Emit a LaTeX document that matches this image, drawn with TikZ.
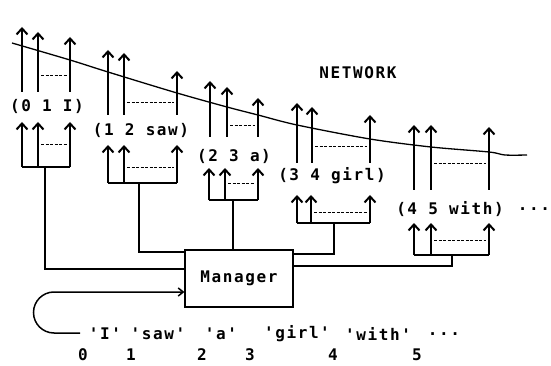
\documentclass[tikz,border=0pt]{standalone}
\usepackage{fontspec}
\setmonofont[LetterSpace=10]{DejaVu Sans Mono}
\usetikzlibrary{arrows.meta}

\begin{document}
\begin{tikzpicture}[x=1pt,y=-1pt,
    txt/.style={font={\ttfamily\bfseries\fontsize{16}{16}\selectfont\spaceskip=11.2pt\relax},
        inner sep=0pt},
    up/.style={-{Straight Barb[length=6pt,width=11pt]},line width=2pt},
    fork/.style={line width=1.8pt},
    gap/.style={line width=1pt,dash pattern=on 3pt off 1.5pt},
    wire/.style={line width=1.5pt},
    box/.style={draw,line width=1.2pt,minimum width=108pt,minimum height=57pt,inner sep=0pt}
]
    \useasboundingbox (0,0) rectangle (551,366);

    % network boundary
    \draw[line width=1.3pt] plot[smooth,tension=0.5] coordinates {
        (12,43) (70,60) (108,72) (177,93) (227,107) (258,115) (297,125)
        (370,139) (431,147) (489,152) (505,155) (527,155)};
    \node[txt] (net) at (358,73) {NETWORK};

    % edges into the network
    \foreach \i/\xa/\xb/\xc/\yb/\ta/\tb/\tc/\yd in {
        1/22/38/70/92/27/32/37/76,
        2/108/124/177/115/50/53/71/103,
        3/210/227/258/137/81/87/98/126,
        4/297/312/370/163/103/107/115/147,
        5/414/431/489/190/125/125/127/164} {
        \draw[up] (\xa,\yb) -- (\xa,\ta);
        \draw[up] (\xb,\yb) -- (\xb,\tb);
        \draw[up] (\xc,\yb) -- (\xc,\tc);
        \draw[gap] (\xb+3,\yd) -- (\xc-3,\yd);
    }

    \foreach \name/\x/\y/\t in {
        I/47/106/{(0 1 I)},
        saw/141/130/{(1 2 saw)},
        a/234/156/{(2 3 a)},
        girl/332/176/{(3 4 girl)},
        with/450/209/{(4 5 with)}} {
        \node[txt] (edge-\name) at (\x,\y) {\t};
    }
    \node[txt] (more) at (534,209) {...};

    % forks from the manager
    \foreach \i/\xa/\xb/\xc/\ytop/\ybr/\yd/\xs in {
        1/22/38/70/122/167/145/45,
        2/108/124/177/145/183/168/139,
        3/209/225/258/168/200/184/233,
        4/297/311/370/195/223/212/334,
        5/414/431/489/223/255/240/452} {
        \draw[fork] (\xa,\ybr) -- (\xc,\ybr);
        \foreach \x in {\xa,\xb,\xc}
            \draw[up] (\x,\ybr) -- (\x,\ytop);
        \draw[gap] (\xb+3,\yd) -- (\xc-3,\yd);
        \coordinate (fork\i) at (\xs,\ybr);
    }

    \node[box,txt] (mgr) at (239,278.5) {Manager};

    \draw[fork] (fork1) |- (mgr.west |- 0,269);
    \draw[fork] (fork2) |- (mgr.west |- 0,252);
    \draw[fork] (fork3) -- (fork3 |- mgr.north);
    \draw[fork] (fork4) |- (mgr.east |- 0,254);
    \draw[fork] (fork5) |- (mgr.east |- 0,266);

    % input words and positions
    \foreach \name/\x/\t in {
        I/105/'I', saw/158/'saw', a/221/'a', girl/297/'girl', with/378/'with'} {
        \node[txt] (word-\name) at (\x,334) {\t};
    }
    \node[txt] (word-more) at (444,334) {...};
    \foreach \d/\x in {0/83,1/131,2/202,3/250,4/333,5/417}
        \node[txt] (pos\d) at (\x,355) {\d};

    \coordinate (feed) at (80,333);
    \draw[wire,-{Straight Barb[length=5pt,width=8pt]}]
        (feed) -- (54,333) arc (90:270:20.5) -- (mgr.west |- 0,292);

\end{tikzpicture}
\end{document}
